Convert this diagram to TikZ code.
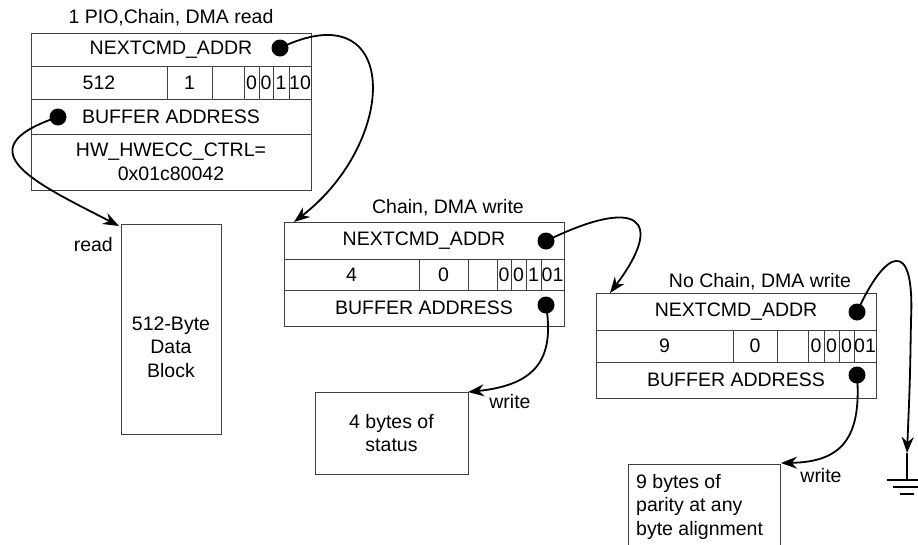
\documentclass[tikz,border=0pt]{standalone}
\usepackage{fontspec}
\setmainfont{Liberation Sans}
\usetikzlibrary{arrows.meta}
\begin{document}
\begin{tikzpicture}[x=1pt,y=-1pt,
  cell/.style={draw=black!75, line width=0.9pt, inner sep=0pt, outer sep=0pt,
    anchor=north west, font=\fontsize{19.5}{23.5}\selectfont, align=center},
  lbl/.style={inner sep=0pt, font=\fontsize{19.5}{23.5}\selectfont},
  dot/.style={circle, fill=black, inner sep=0pt, minimum size=17pt},
  arr/.style={line width=1.8pt, -{Stealth[length=16pt,width=12pt]}},
  wire/.style={line width=1.8pt}]
\useasboundingbox (0,0) rectangle (918,544);

% ---- Box 1 ----
\node[lbl] (t1) at (171,18) {1 PIO,Chain, DMA read};
\node[cell, minimum width=280pt, minimum height=33pt] (a1) at (31,33) {NEXTCMD\_ADDR};
\node[cell, minimum width=136pt, minimum height=33pt] (a2) at (31,66) {512};
\node[cell, minimum width=45pt, minimum height=33pt] (a3) at (167,66) {1};
\node[cell, minimum width=32pt, minimum height=33pt] (a4) at (212,66) {};
\node[cell, minimum width=15pt, minimum height=33pt] (a5) at (244,66) {0};
\node[cell, minimum width=14pt, minimum height=33pt] (a6) at (259,66) {0};
\node[cell, minimum width=16pt, minimum height=33pt] (a7) at (273,66) {1};
\node[cell, minimum width=22pt, minimum height=33pt] (a8) at (289,66) {10};
\node[cell, minimum width=280pt, minimum height=35pt] (a9) at (31,99) {BUFFER ADDRESS};
\node[cell, minimum width=280pt, minimum height=56pt] (a10) at (31,134) {HW\_HWECC\_CTRL=\\0x01c80042};

% ---- Box 2 ----
\node[lbl] (t2) at (448,208) {Chain, DMA write};
\node[cell, minimum width=280pt, minimum height=37pt] (b1) at (284,222) {NEXTCMD\_ADDR};
\node[cell, minimum width=135pt, minimum height=31pt] (b2) at (284,259) {4};
\node[cell, minimum width=49pt, minimum height=31pt] (b3) at (419,259) {0};
\node[cell, minimum width=29pt, minimum height=31pt] (b4) at (468,259) {};
\node[cell, minimum width=14pt, minimum height=31pt] (b5) at (497,259) {0};
\node[cell, minimum width=15pt, minimum height=31pt] (b6) at (511,259) {0};
\node[cell, minimum width=15pt, minimum height=31pt] (b7) at (526,259) {1};
\node[cell, minimum width=23pt, minimum height=31pt] (b8) at (541,259) {01};
\node[cell, minimum width=280pt, minimum height=36pt] (b9) at (284,290) {BUFFER ADDRESS};

% ---- Box 3 ----
\node[lbl] (t3) at (760,282) {No Chain, DMA write};
\node[cell, minimum width=280pt, minimum height=37pt] (c1) at (596,293) {NEXTCMD\_ADDR};
\node[cell, minimum width=137pt, minimum height=32pt] (c2) at (596,330) {9};
\node[cell, minimum width=44pt, minimum height=32pt] (c3) at (733,330) {0};
\node[cell, minimum width=31pt, minimum height=32pt] (c4) at (777,330) {};
\node[cell, minimum width=16pt, minimum height=32pt] (c5) at (808,330) {0};
\node[cell, minimum width=15pt, minimum height=32pt] (c6) at (824,330) {0};
\node[cell, minimum width=15pt, minimum height=32pt] (c7) at (839,330) {0};
\node[cell, minimum width=22pt, minimum height=32pt] (c8) at (854,330) {01};
\node[cell, minimum width=280pt, minimum height=36pt] (c9) at (596,362) {BUFFER ADDRESS};

% ---- Targets ----
\node[cell, minimum width=100pt, minimum height=210pt] (blk) at (121,224) {};
\node[lbl, align=center] (blkt) at (171,347) {512-Byte\\Data\\Block};
\node[cell, minimum width=153pt, minimum height=82pt] (st) at (315,392) {4 bytes of\\status};
\node[cell, minimum width=152pt, minimum height=84pt] (par) at (628,464) {};
\node[lbl, align=left, anchor=north west] (part) at (636,474) {9 bytes of\\parity at any\\byte alignment};

% ---- Labels ----
\node[lbl, anchor=east] (lr) at (113,245) {read};
\node[lbl] (lw1) at (510,402) {write};
\node[lbl] (lw2) at (821,476) {write};

% ---- Dots ----
\node[dot] (d1) at (280,48) {};
\node[dot] (d2) at (58,117) {};
\node[dot] (d3) at (546,241) {};
\node[dot] (d4) at (546,305) {};
\node[dot] (d5) at (857,312) {};
\node[dot] (d6) at (857,375) {};

% ---- Arrow end points ----
\coordinate (e1) at (294,222);
\coordinate (e2) at (119,226);
\coordinate (e3) at (610,293);
\coordinate (e4) at (468,392);
\coordinate (e5) at (907,453);
\coordinate (e6) at (781,463);
\coordinate (g) at (907,480);

% ---- Connectors ----
\draw[arr] (d1.center) .. controls (400,-10) and (400,140) .. (e1);
\draw[arr] (d2.center) .. controls (-40,150) and (40,185) .. (e2);
\draw[arr] (d3.center) .. controls (640,195) and (665,220) .. (e3);
\draw[arr] (d4.center) .. controls (555,360) and (535,385) .. (e4);
\draw[arr] (d5.center) .. controls (885,250) and (915,235) .. (911,320) .. controls (910,380) .. (e5);
\draw[arr] (d6.center) .. controls (862,440) and (840,462) .. (e6);

% ---- Ground ----
\draw[wire] (e5) -- (g);
\draw[line width=1.6pt] (887,480) -- (927,480);
\draw[line width=1.6pt] (893,487) -- (921,487);
\draw[line width=1.6pt] (900,494) -- (914,494);
\end{tikzpicture}
\end{document}
